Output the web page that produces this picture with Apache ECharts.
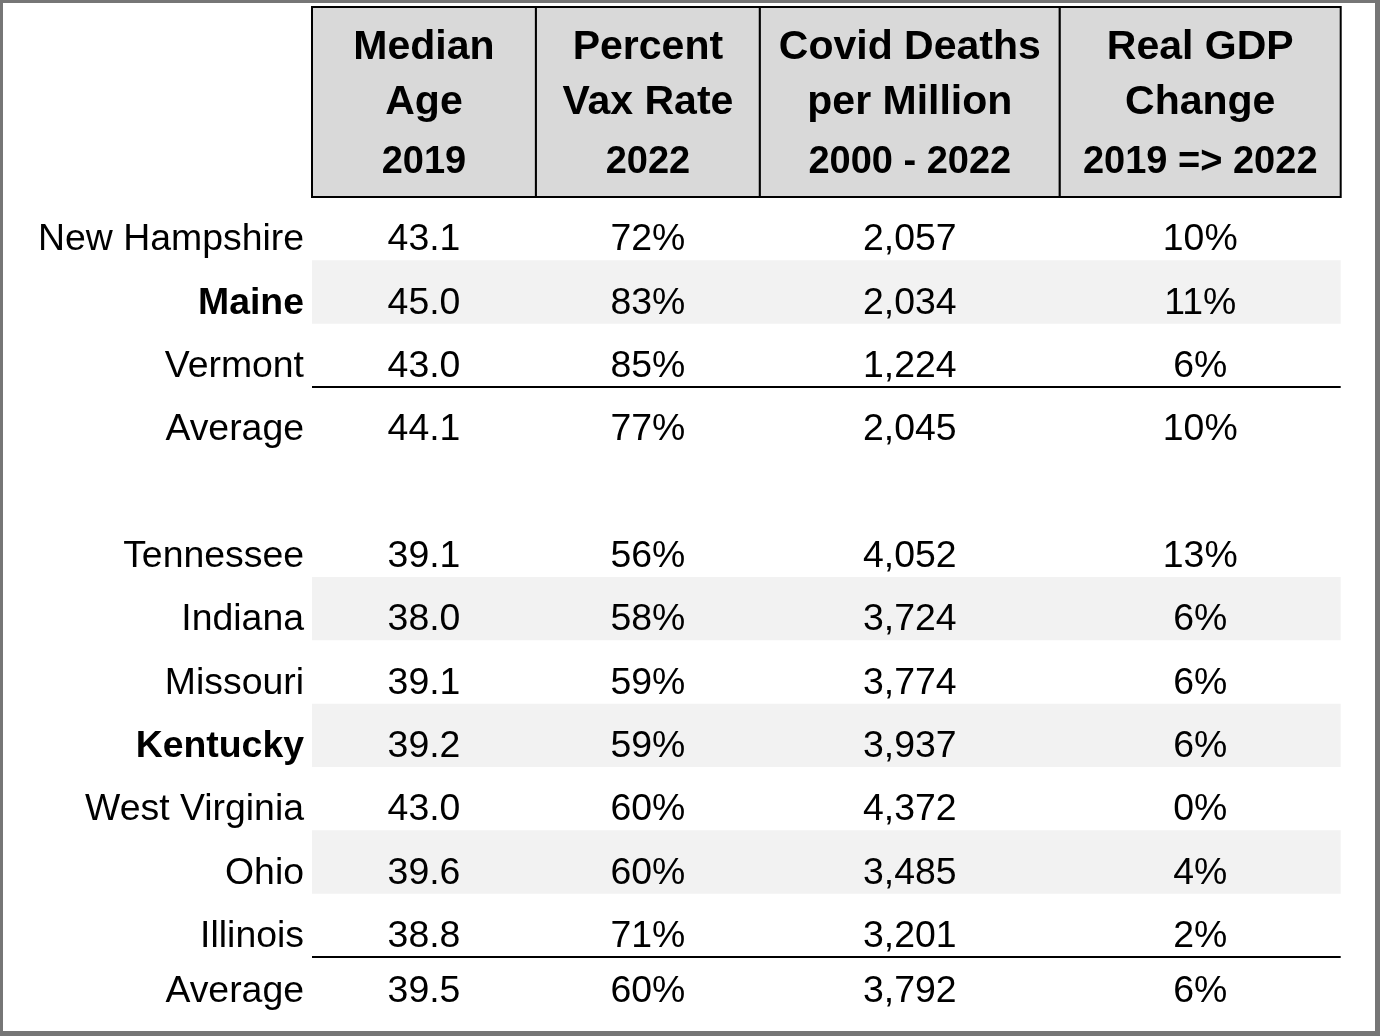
<!DOCTYPE html>
<html>
<head>
<meta charset="utf-8">
<script src="https://cdn.jsdelivr.net/npm/echarts@6/dist/echarts.min.js"></script>
<style>
    html, body { margin: 0; padding: 0; background: #fff; }
    #main {
        width: 1380px;
        height: 1036px;
        box-sizing: border-box;
        border-style: solid;
        border-color: #767676;
        border-width: 3px 5px 5px 3px;
    }
</style>
</head>
<body>
<div id="main"></div>
<script>
// table values ('' state = blank spacer row)
var states = ['New Hampshire', 'Maine', 'Vermont', 'Average', '',
    'Tennessee', 'Indiana', 'Missouri', 'Kentucky', 'West Virginia', 'Ohio', 'Illinois', 'Average'];
var medianAge = [43.1, 45.0, 43.0, 44.1, null, 39.1, 38.0, 39.1, 39.2, 43.0, 39.6, 38.8, 39.5];
var vaxRate = [72, 83, 85, 77, null, 56, 58, 59, 59, 60, 60, 71, 60];
var covidDeaths = [2057, 2034, 1224, 2045, null, 4052, 3724, 3774, 3937, 4372, 3485, 3201, 3792];
var gdpChange = [10, 11, 6, 10, null, 13, 6, 6, 6, 0, 4, 2, 6];
var headers = [
    ['Median', 'Age', '2019'],
    ['Percent', 'Vax Rate', '2022'],
    ['Covid Deaths', 'per Million', '2000 - 2022'],
    ['Real GDP', 'Change', '2019 => 2022']
];
var boldStates = ['Maine', 'Kentucky'];
var stripeRows = [1, 6, 8, 10];   // body row indexes with grey fill
var ruleRows = [2, 11];           // body rows with a line underneath

// layout
var FONT = "'Liberation Sans', Arial, sans-serif";
var BODY_SIZE = 37.4;
var colEdges = [0, 224, 448, 748, 1029];
var headerRows = 3;
var textShift = 11.5;
var lastShift = 3;
var headerLineY = [41, 96, 156];
var headerLineSize = [41, 41, 38];

var rowKeys = [];
for (var i = 0; i < headerRows + states.length; i++) rowKeys.push(String(i));

function fmt(c, r) {
    if (c === 0) return medianAge[r].toFixed(1);
    if (c === 1) return vaxRate[r] + '%';
    if (c === 2) return covidDeaths[r].toLocaleString('en-US');
    return gdpChange[r] + '%';
}

var cellData = [], cellText = [];
states.forEach(function (s, r) {
    if (!s) return;
    for (var c = 0; c < 4; c++) {
        cellData.push([c, r + headerRows]);
        cellText.push(fmt(c, r));
    }
});

function bandRect(api, c0, c1, row) {
    var h = api.size([0, 1])[1];
    var a = api.coord([colEdges[c0], row]);
    var b = api.coord([colEdges[c1], row]);
    return { x: a[0], y: a[1] - h / 2, width: b[0] - a[0], height: h };
}

var chart = echarts.init(document.getElementById('main'));

chart.setOption({
    animation: false,
    grid: { left: 309, right: 34.3, top: 4, bottom: 10.7 },
    xAxis: { type: 'value', min: 0, max: 1029, show: false },
    yAxis: {
        type: 'category',
        inverse: true,
        data: rowKeys,
        axisLine: { show: false },
        axisTick: { show: false },
        splitLine: { show: false },
        axisLabel: {
            interval: 0,
            margin: 8,
            formatter: function (v, idx) {
                var r = idx - headerRows;
                if (r < 0 || !states[r]) return '';
                var last = r === states.length - 1;
                var style = boldStates.indexOf(states[r]) >= 0 ? 'b' : (last ? 'l' : 'n');
                return '{' + style + '|' + states[r] + '}';
            },
            rich: {
                n: { fontFamily: FONT, fontSize: BODY_SIZE, lineHeight: BODY_SIZE, color: '#000', padding: [textShift * 2, 0, 0, 0] },
                b: { fontFamily: FONT, fontSize: BODY_SIZE, lineHeight: BODY_SIZE, color: '#000', fontWeight: 'bold', padding: [textShift * 2, 0, 0, 0] },
                l: { fontFamily: FONT, fontSize: BODY_SIZE, lineHeight: BODY_SIZE, color: '#000', padding: [lastShift * 2, 0, 0, 0] }
            }
        }
    },
    series: [{
        name: 'stripes',
        type: 'custom',
        z: 1,
        silent: true,
        data: stripeRows.map(function (r) { return [0, r + headerRows]; }),
        renderItem: function (params, api) {
            return { type: 'rect', shape: bandRect(api, 0, 4, api.value(1)), style: { fill: '#f2f2f2' } };
        }
    }, {
        name: 'rules',
        type: 'custom',
        z: 3,
        silent: true,
        data: ruleRows.map(function (r) { return [0, r + headerRows]; }),
        renderItem: function (params, api) {
            var b = bandRect(api, 0, 4, api.value(1));
            return {
                type: 'line',
                shape: { x1: b.x, y1: b.y + b.height, x2: b.x + b.width, y2: b.y + b.height },
                style: { stroke: '#000', lineWidth: 2 }
            };
        }
    }, {
        name: 'cells',
        type: 'custom',
        z: 4,
        silent: true,
        data: cellData,
        renderItem: function (params, api) {
            var c = api.value(0), row = api.value(1);
            var b = bandRect(api, c, c + 1, row);
            var last = row === rowKeys.length - 1;
            return {
                type: 'text',
                style: {
                    text: cellText[params.dataIndex],
                    x: b.x + b.width / 2,
                    y: b.y + b.height / 2 + (last ? lastShift : textShift),
                    align: 'center',
                    verticalAlign: 'middle',
                    fontFamily: FONT,
                    fontSize: BODY_SIZE,
                    fill: '#000'
                }
            };
        }
    }, {
        name: 'header',
        type: 'custom',
        z: 5,
        silent: true,
        data: headers.map(function (h, c) { return [c, 0]; }),
        renderItem: function (params, api) {
            var c = api.value(0);
            var top = bandRect(api, c, c + 1, 0);
            var bottom = bandRect(api, c, c + 1, headerRows - 1);
            var children = [{
                type: 'rect',
                shape: { x: top.x, y: top.y, width: top.width, height: bottom.y + bottom.height - top.y },
                style: { fill: '#d9d9d9', stroke: '#000', lineWidth: 2 }
            }];
            headers[c].forEach(function (line, k) {
                children.push({
                    type: 'text',
                    style: {
                        text: line,
                        x: top.x + top.width / 2,
                        y: top.y + headerLineY[k],
                        align: 'center',
                        verticalAlign: 'middle',
                        fontFamily: FONT,
                        fontSize: headerLineSize[k],
                        fontWeight: 'bold',
                        fill: '#000'
                    }
                });
            });
            return { type: 'group', children: children };
        }
    }]
});
</script>
</body>
</html>
